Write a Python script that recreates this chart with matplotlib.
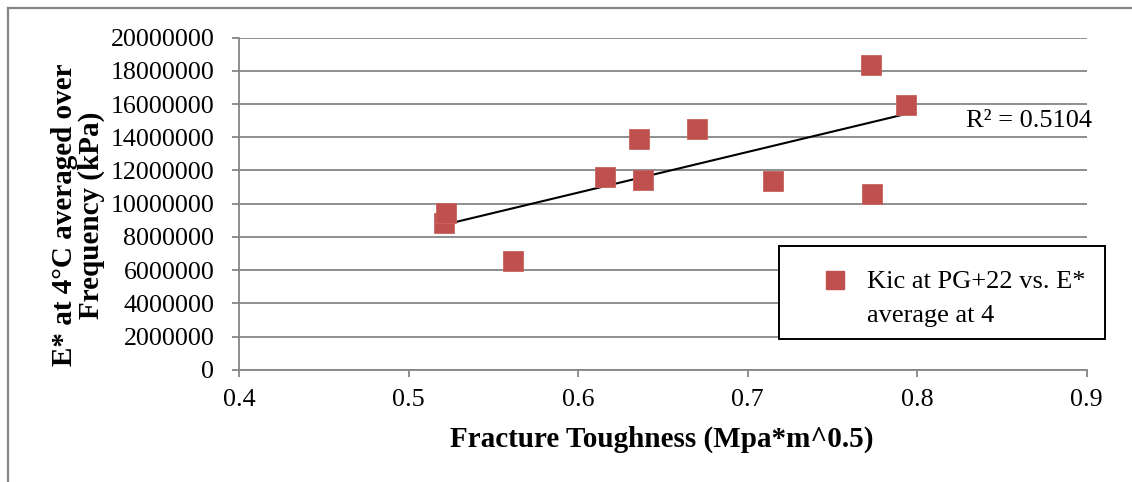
import numpy as np
import matplotlib
matplotlib.use("Agg")
import matplotlib.pyplot as plt
from matplotlib.lines import Line2D
from matplotlib.patches import Rectangle

# Fracture toughness (Mpa*m^0.5) and averaged dynamic modulus E* at 4°C (kPa)
kic = [0.5205, 0.5220, 0.5616, 0.6156, 0.6360, 0.6380, 0.6699, 0.7151, 0.7726, 0.7732, 0.7936]
e_star = [8840000, 9440000, 6550000, 11610000, 13900000, 11400000, 14500000,
          11390000, 18360000, 10580000, 15930000]
x_ticks = [0.4, 0.5, 0.6, 0.7, 0.8, 0.9]
y_ticks = list(range(0, 20000001, 2000000))
series_label = "Kic at PG+22 vs. E*\naverage at 4"
x_label = "Fracture Toughness (Mpa*m^0.5)"
y_label = "E* at 4°C averaged over\nFrequency (kPa)"
r2_label = "R² = 0.5104"

plt.rcParams["font.family"] = ["Liberation Serif", "DejaVu Serif"]
W, H = 1132, 482
fig = plt.figure(figsize=(W / 100, H / 100), dpi=100)
fig.patch.set_facecolor("white")


def fx(px):
    return px / W


def fy(py):
    return 1 - py / H


ax = fig.add_axes([fx(239.3), fy(369.7), fx(1086.7) - fx(239.3), fy(37.7) - fy(369.7)])

red = "#C0504D"
grid_c = "#868686"
fs = 19

# linear trendline through the data
x = np.array(kic)
y = np.array(e_star, dtype=float)
slope, intercept = np.polyfit(x, y, 1)
xl = np.array([x.min(), x.max()])
ax.plot(xl, slope * xl + intercept, color="black", lw=1.5, zorder=3)

ax.plot(x, y, linestyle="none", marker="s", markersize=14.5, color=red,
        markeredgecolor="#C9625F", markeredgewidth=0.6, zorder=4)

ax.set_xlim(0.4, 0.9)
ax.set_ylim(0, 20000000)
ax.set_xticks(x_ticks)
ax.set_xticklabels([f"{t:g}" for t in x_ticks])
ax.set_yticks(y_ticks)
ax.set_yticklabels([str(t) for t in y_ticks])
ax.yaxis.grid(True, color=grid_c, lw=1.3)
ax.set_axisbelow(True)
for s in ("top", "right"):
    ax.spines[s].set_visible(False)
for s in ("left", "bottom"):
    ax.spines[s].set_color(grid_c)
    ax.spines[s].set_linewidth(1.3)
ax.tick_params(axis="both", direction="out", length=5, width=1.3, color=grid_c,
               labelsize=18.7, labelcolor="black")
ax.tick_params(axis="y", pad=13)
ax.tick_params(axis="x", pad=9)

fig.text(fx(662), fy(447), x_label, ha="center", va="baseline", fontsize=21, fontweight="bold")
fig.text(fx(78), fy(215), y_label, ha="center", va="center", rotation=90,
         multialignment="center", fontsize=21, fontweight="bold", linespacing=0.95)

# R-squared of the linear fit
fig.text(fx(966), fy(127), r2_label, ha="left", va="baseline", fontsize=fs)

# legend box with the series marker and its two-line label
fig.patches.append(Rectangle((fx(779.3), fy(339.3)), fx(1105) - fx(779.3), fy(246) - fy(339.3),
                             transform=fig.transFigure, fill=True, facecolor="white",
                             edgecolor="black", lw=1.4, zorder=5))
fig.add_artist(Line2D([fx(835)], [fy(279.5)], transform=fig.transFigure, linestyle="none",
                      marker="s", markersize=13, color=red, zorder=6))
for line, base in zip(series_label.split("\n"), (288, 322)):
    fig.text(fx(867), fy(base), line, ha="left", va="baseline", fontsize=fs, zorder=6)

# outer chart border
fig.add_artist(Line2D([fx(8), fx(8)], [fy(8), 0], transform=fig.transFigure, color=grid_c, lw=1.6))
fig.add_artist(Line2D([fx(8), 1], [fy(8), fy(8)], transform=fig.transFigure, color=grid_c, lw=1.6))

fig.savefig("out.png", dpi=100)
